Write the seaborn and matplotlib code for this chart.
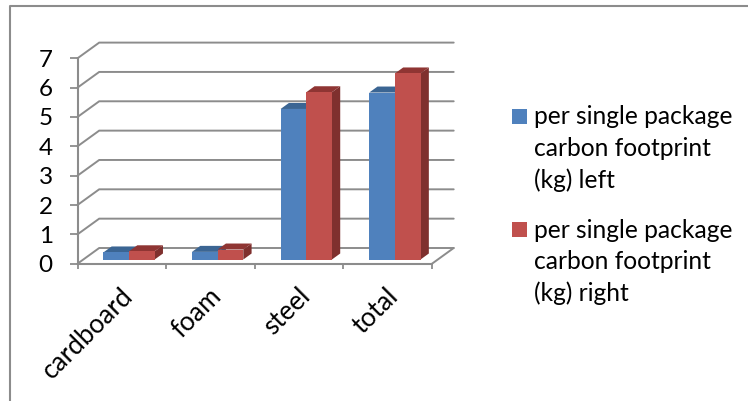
import matplotlib
matplotlib.use("Agg")
import matplotlib.pyplot as plt
from matplotlib.patches import Polygon, Rectangle
import pandas as pd
import seaborn as sns

categories = ["cardboard", "foam", "steel", "total"]
series_names = [
    "per single package\ncarbon footprint\n(kg) left",
    "per single package\ncarbon footprint\n(kg) right",
]
left_values = [0.24, 0.26, 5.13, 5.69]
right_values = [0.28, 0.34, 5.70, 6.34]
y_ticks = [0, 1, 2, 3, 4, 5, 6, 7]

FRONT = ["#4F81BD", "#C0504D"]
TOP = ["#3B6593", "#8F3533"]
SIDE = ["#3A5F8B", "#7F302E"]
GRID = "#8C8C8C"
W, H = 748, 401

sns.set_theme(style="white")
plt.rcParams["font.family"] = ["Lato", "DejaVu Sans"]

fig = plt.figure(figsize=(W / 100, H / 100), dpi=100)
ax_left, ax_right, ax_bottom, ax_top = 77.5, 432.0, 263.7, 58.3
ax = fig.add_axes([ax_left / W, 1 - ax_bottom / H,
                   (ax_right - ax_left) / W, (ax_bottom - ax_top) / H])

frame = pd.DataFrame({
    "category": categories * 2,
    "value": left_values + right_values,
    "series": [series_names[0]] * 4 + [series_names[1]] * 4,
})
sns.barplot(data=frame, x="category", y="value", hue="series", order=categories,
            hue_order=series_names, palette=FRONT, width=0.579, gap=0, dodge=True,
            saturation=1, legend=False, ax=ax, zorder=5)
ax.set_xlim(-0.5, 3.5)
ax.set_ylim(0, 7)
sx = (ax_right - ax_left) / 4      # pixels per category
sy = (ax_bottom - ax_top) / 7      # pixels per value unit


def px(dx, dy):
    """Offset in pixels expressed in data units (dy positive = upwards)."""
    return dx / sx, dy / sy


# Floor and back wall of the pseudo-3D box
wall_dx, wall_dy = px(21.7, 15.7)
for v in y_ticks:
    ax.plot([-0.5, -0.5 + wall_dx, 3.5 + wall_dx], [v, v + wall_dy, v + wall_dy],
            color=GRID, lw=1.4, clip_on=False, zorder=1, solid_joinstyle="miter")
ax.plot([3.5, 3.5 + wall_dx], [0, wall_dy], color=GRID, lw=1.4, clip_on=False, zorder=1)
ax.plot([-0.5, 3.5], [0, 0], color=GRID, lw=1.5, clip_on=False, zorder=2)
ax.plot([-0.5, -0.5], [0, 7], color=GRID, lw=1.5, clip_on=False, zorder=2)

# Extrude each front face: shift towards the wall, then add side and top faces
shift_x, shift_y = px(7.2, 4.2)
depth_x, depth_y = px(8.3, 6.0)
bars = list(ax.patches)
order = sorted(range(len(bars)), key=lambda i: bars[i].get_x())
for i in order:
    bar = bars[i]
    s = 0 if i < len(categories) else 1
    x0 = bar.get_x() + shift_x
    x1 = x0 + bar.get_width()
    y0 = shift_y
    y1 = bar.get_height() + shift_y
    bar.set_x(x0)
    bar.set_y(y0)
    bar.set_clip_on(False)
    bar.set_edgecolor("none")
    z = 5 + order.index(i) * 0.01
    bar.set_zorder(z + 0.002)
    ax.add_patch(Polygon([(x1, y0), (x1 + depth_x, y0 + depth_y),
                          (x1 + depth_x, y1 + depth_y), (x1, y1)],
                         closed=True, fc=SIDE[s], ec="none", clip_on=False, zorder=z))
    ax.add_patch(Polygon([(x0, y1), (x0 + depth_x, y1 + depth_y),
                          (x1 + depth_x, y1 + depth_y), (x1, y1)],
                         closed=True, fc=TOP[s], ec="none", clip_on=False, zorder=z + 0.001))

ax.set_xlabel("")
ax.set_ylabel("")
sns.despine(ax=ax, left=True, bottom=True, top=True, right=True)
ax.set_yticks(y_ticks)
ax.set_xticks([-0.5, 0.5, 1.5, 2.5, 3.5], labels=[""] * 5)
ax.tick_params(axis="y", length=5.8, width=1.3, color=GRID, labelsize=17.5,
               labelcolor="black", pad=12, left=True)
ax.tick_params(axis="x", length=3.5, width=1.3, color=GRID, bottom=True)

# Slanted category labels, anchored at their upper right end
for i, name in enumerate(categories):
    ax.annotate(name, xy=(i, 0), xycoords="data", xytext=(-2, -20),
                textcoords="offset pixels", rotation=45, ha="right", va="top",
                rotation_mode="anchor", fontsize=18.8, color="black")

# Legend keys and entries
for s, (ky, name) in enumerate(zip([109, 222], series_names)):
    fig.add_artist(Rectangle((512 / W, 1 - (ky + 15) / H), 15 / W, 15 / H,
                             transform=fig.transFigure, fc=FRONT[s], ec="none"))
    for k, line in enumerate(name.split("\n")):
        fig.text(534 / W, 1 - (ky + 8 + 31.5 * k) / H, line, fontsize=17.7,
                 va="center", ha="left", color="black")

# Outer chart border
fig.add_artist(plt.Line2D([10 / W, 10 / W, 1], [0, 1 - 5.5 / H, 1 - 5.5 / H],
                          color=GRID, lw=1.5, transform=fig.transFigure))

fig.savefig("out.png", dpi=100, facecolor="white")
